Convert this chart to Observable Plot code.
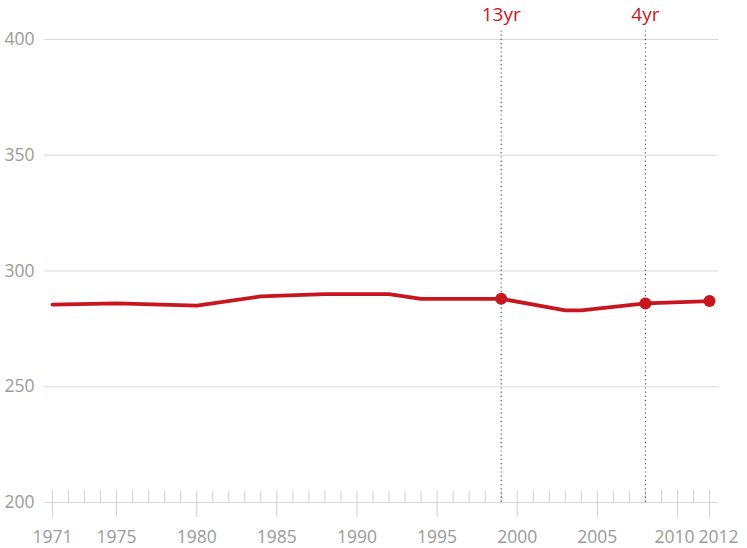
<!DOCTYPE html>
<html>
<head>
<meta charset="utf-8">
<script src="https://cdn.jsdelivr.net/npm/d3@7"></script>
<script src="https://cdn.jsdelivr.net/npm/@observablehq/plot@0.6"></script>
<style>
  html, body { margin: 0; padding: 0; background: #fff; }
  #chart svg { display: block; }
</style>
</head>
<body>
<div id="chart"></div>
<script>
const years  = [1971, 1975, 1980, 1984, 1988, 1992, 1994, 1999, 2003, 2004, 2008, 2012];
const values = [285.5, 286, 285, 289, 290, 290, 288, 288, 283, 283, 286, 287];
const dotYears = [1999, 2008, 2012];
const markerYears = [1999, 2008];
const markerLabels = ["13yr", "4yr"];
const majorTicks = [1971, 1975, 1980, 1985, 1990, 1995, 2000, 2005, 2010, 2012];
const minorTicks = d3.range(1971, 2013);
const yTicks = [200, 250, 300, 350, 400];

const data = years.map((x, i) => ({x, y: values[i]}));
const dots = data.filter(d => dotYears.includes(d.x));
const markers = markerYears.map((x, i) => ({x, label: markerLabels[i]}));

const red = "#c8161e";
const font = "'Open Sans', sans-serif";
const labelShift = d => d === 2012 ? 9 : d === 2010 ? -3 : 0;

const chart = Plot.plot({
  width: 747,
  height: 548,
  marginLeft: 44,
  marginRight: 29,
  marginTop: 39,
  marginBottom: 46,
  x: {domain: [1970.5, 2012.56], axis: null},
  y: {domain: [200, 400], axis: null},
  style: {fontFamily: font, background: "#fff"},
  marks: [
    Plot.ruleY(yTicks, {stroke: "#d9d9d9", strokeWidth: 1}),
    Plot.ruleX(minorTicks, {y1: 200, y2: 205, stroke: "#d0d0d0", strokeWidth: 1}),
    Plot.ruleX(majorTicks, {y1: 200, y2: 193.5, stroke: "#d0d0d0", strokeWidth: 1}),
    Plot.text(yTicks, {y: d => d, frameAnchor: "left", textAnchor: "end", dx: -10, text: d => String(d), fill: "#9a9a9a", fontSize: 17.5}),
    Plot.text(majorTicks, {x: d => d + labelShift(d) / 16.02, frameAnchor: "bottom", dy: 35, text: d => String(d), fill: "#9a9a9a", fontSize: 17.5}),
    Plot.ruleX(markers, {x: "x", y1: 200, y2: 404, stroke: "#555", strokeWidth: 1.2, strokeDasharray: "1.2,3"}),
    Plot.text(markers, {x: "x", frameAnchor: "top", dy: -32, text: "label", fill: red, fontSize: 19, fontWeight: 500}),
    Plot.line(data, {x: "x", y: "y", stroke: red, strokeWidth: 3.8, strokeLinejoin: "round", strokeLinecap: "round"}),
    Plot.dot(dots, {x: "x", y: "y", r: 6, fill: red, stroke: "none"})
  ]
});
document.getElementById("chart").appendChild(chart);
chart.querySelectorAll("text").forEach(t => {
  const txt = t.textContent;
  if (/^(19|20)\d\d$/.test(txt)) t.setAttribute("dy", "0.32em");
});
</script>
</body>
</html>
